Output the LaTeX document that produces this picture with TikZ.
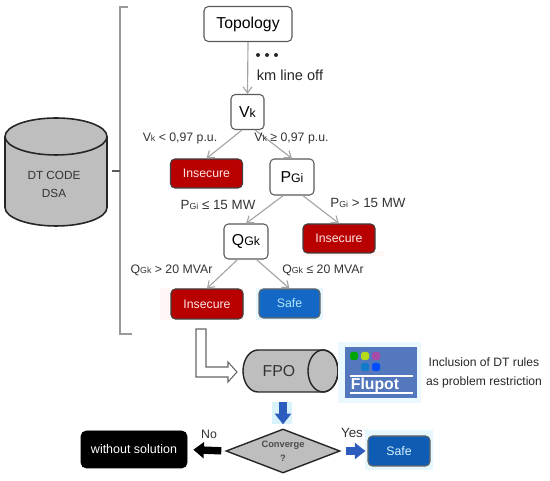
\documentclass[tikz,border=0pt]{standalone}
\usepackage{fontspec}
\setmainfont{Liberation Sans}
\usetikzlibrary{positioning, arrows.meta, shapes.geometric}
\definecolor{dtred}{RGB}{184,0,0}
\definecolor{dtblue}{RGB}{18,104,196}
\definecolor{dtnavy}{RGB}{14,92,180}
\definecolor{dtgray}{RGB}{190,190,190}
\definecolor{dtedge}{RGB}{165,165,165}
\definecolor{flublue}{RGB}{84,120,190}
\definecolor{arrowblue}{RGB}{44,92,190}
\newcommand{\smsub}[1]{{\fontsize{5pt}{5pt}\selectfont #1}}
\newcommand{\bigsub}[1]{{\fontsize{7pt}{7pt}\selectfont #1}}
\tikzset{
  varbox/.style={draw=black!65, fill=white, rounded corners=2.5pt, line width=0.6pt, inner sep=0pt},
  badbox/.style={draw=black!75, fill=dtred, text=white!90!red, rounded corners=2.5pt, line width=0.6pt,
    minimum width=1.44cm, minimum height=0.58cm, inner sep=0pt, font=\fontsize{7}{8}\selectfont},
  safebox/.style={draw=black!60, fill=dtblue, text=cyan!30, rounded corners=2.5pt, line width=0.6pt,
    minimum height=0.58cm, inner sep=0pt, font=\fontsize{7}{8}\selectfont},
  rulelabel/.style={inner sep=0pt, text=black!80, font=\fontsize{7}{8}\selectfont},
  treeedge/.style={draw=dtedge, line width=0.65pt, -{Straight Barb[length=3.5pt,width=5pt]}},
  fatedge/.style={line width=4.2pt, -{Triangle[length=6pt,width=9pt]}},
}
\begin{document}
\begin{tikzpicture}
        \useasboundingbox (0,0) rectangle (11,9.62);
        % left database
        \draw[draw=black!85, fill=dtgray, line width=0.9pt]
          (0.10,6.89) -- (0.10,5.47) arc (180:360:1.02 and 0.37) -- (2.14,6.89);
        \draw[draw=black!85, fill=dtgray, line width=0.9pt]
          (1.12,6.89) ellipse (1.02 and 0.37);
        \node[align=center, inner sep=0pt, text=black!80, font=\fontsize{6.7}{10.2}\selectfont] (dtcode) at (1.08,5.94) {DT CODE\\DSA};
        % bracket
        \draw[draw=black!40, line width=0.6pt]
          (2.56,9.48) -- (2.40,9.48) -- (2.40,2.94) -- (2.64,2.94);
        \draw[draw=black!65, line width=0.6pt] (2.24,6.20) -- (2.40,6.20);
        % faint halos round the boxes
        \fill[pink!15] (3.20,3.22) rectangle (4.88,3.86);
        \fill[pink!15] (6.06,4.50) rectangle (7.68,4.60);
        \fill[cyan!10] (5.12,3.22) rectangle (6.46,3.86);
        \fill[cyan!10] (7.30,0.22) rectangle (8.66,1.02);
        \fill[cyan!15] (5.44,1.14) rectangle (5.84,1.58);
        % decision tree
        \node[varbox, minimum width=1.76cm, minimum height=0.70cm, font=\fontsize{9}{10}\selectfont] (topology) at (4.96,9.14) {Topology};
        \node[varbox, minimum width=0.66cm, minimum height=0.70cm, font=\fontsize{9}{10}\selectfont] (vk) at (4.95,7.38) {V\bigsub{k}};
        \node[badbox] (insecurea) at (4.13,6.15) {Insecure};
        \node[varbox, minimum width=0.88cm, minimum height=0.72cm, font=\fontsize{9}{10}\selectfont] (pgi) at (5.84,6.08) {P\bigsub{Gi}};
        \node[varbox, minimum width=0.88cm, minimum height=0.70cm, font=\fontsize{9}{10}\selectfont] (qgk) at (4.92,4.79) {Q\bigsub{Gk}};
        \node[badbox] (insecureb) at (6.78,4.85) {Insecure};
        \node[badbox, minimum height=0.60cm] (insecurec) at (4.14,3.54) {Insecure};
        \node[safebox, minimum width=1.22cm] (safea) at (5.79,3.55) {Safe};
        \draw[treeedge] (topology.south) -- (vk.north);
        \draw[treeedge] (vk.253) -- (insecurea.north);
        \draw[treeedge] (vk.293) -- (pgi.north);
        \draw[treeedge] (pgi.245) -- (qgk.north);
        \draw[treeedge] (pgi.300) -- (insecureb.north);
        \draw[treeedge] (qgk.245) -- (insecurec.north);
        \draw[treeedge] (qgk.300) -- (safea.north);
        % labels of the tree
        \foreach \x in {5.16,5.34,5.52}
          \fill[black!85] (\x,8.52) circle (0.04);
        \node[inner sep=0pt, text=black!85, font=\fontsize{8.3}{9}\selectfont] (kmoff) at (5.80,8.12) {km line off};
        \node[rulelabel] (vklow) at (3.60,6.86) {V\smsub{k} < 0,97 p.u.};
        \node[rulelabel] (vkhigh) at (5.83,6.86) {V\smsub{k} ≥ 0,97 p.u.};
        \node[rulelabel, font=\fontsize{7.6}{9}\selectfont] (pgilow) at (4.36,5.52) {P\smsub{Gi} ≤ 15 MW};
        \node[rulelabel, font=\fontsize{7.6}{9}\selectfont] (pgihigh) at (7.36,5.56) {P\smsub{Gi} > 15 MW};
        \node[rulelabel] (qgkhigh) at (3.43,4.22) {Q\smsub{Gk} > 20 MVAr};
        \node[rulelabel] (qgklow) at (6.46,4.22) {Q\smsub{Gk} ≤ 20 MVAr};
        % hollow arrow
        \draw[draw=black!60, fill=white, line width=0.6pt]
          (3.92,3.04) -- (3.92,2.08) -- (4.56,2.08) -- (4.56,1.98) -- (4.74,2.18)
          -- (4.56,2.38) -- (4.56,2.28) -- (4.12,2.28) -- (4.12,3.04) -- cycle;
        % FPO cylinder
        \draw[draw=black!85, fill=dtgray, line width=0.8pt]
          (5.16,2.62) -- (6.46,2.62) arc (90:-90:0.30 and 0.42) -- (5.16,1.78) arc (270:90:0.30 and 0.42) -- cycle;
        \draw[draw=black!85, line width=0.8pt] (6.46,2.20) ellipse (0.30 and 0.42);
        \node[minimum width=1.90cm, minimum height=0.84cm, inner sep=0pt] (fpo) at (5.81,2.20) {};
        \node[inner sep=0pt, text=black!80, font=\fontsize{9}{10}\selectfont] (fpotext) at (5.58,2.20) {FPO};
        % flupot logo
        \fill[cyan!8] (6.76,1.56) rectangle (8.42,2.78);
        \fill[flublue] (6.90,1.66) rectangle (8.34,2.68);
        \fill[green!65!black, rounded corners=1pt] (7.00,2.42) rectangle (7.16,2.58);
        \fill[yellow!70!green, rounded corners=1pt] (7.22,2.42) rectangle (7.38,2.58);
        \fill[violet!70, rounded corners=1pt] (7.44,2.42) rectangle (7.60,2.58);
        \fill[cyan!60!blue, rounded corners=1pt] (7.22,2.20) rectangle (7.38,2.36);
        \fill[blue!70!cyan, rounded corners=1pt] (7.44,2.20) rectangle (7.60,2.36);
        \draw[draw=white, line width=0.8pt] (7.00,2.10) -- (8.26,2.10);
        \draw[draw=white, line width=0.8pt] (7.00,1.76) -- (8.26,1.76);
        \node[inner sep=0pt, text=white, font=\fontsize{9}{10}\selectfont\bfseries] (flupot) at (7.50,1.92) {Flupot};
        \node[align=center, inner sep=0pt, text=black!85, font=\fontsize{6.9}{10.6}\selectfont] (inclusion) at (9.68,2.16) {Inclusion of DT rules\\as problem restriction};
        % lower flow
        \node[diamond, draw=black!85, fill=dtgray, line width=0.8pt, aspect=2.6, inner sep=0pt,
          minimum width=2.28cm, minimum height=0.88cm, align=center, text=black!70,
          font=\fontsize{5.3}{8}\selectfont\bfseries] (converge) at (5.66,0.60) {Converge\\?};
        \node[safebox, fill=dtnavy, text=white!85!cyan, minimum width=1.24cm, minimum height=0.60cm] (safeb) at (7.98,0.60) {Safe};
        \node[draw=black, fill=black, text=white, rounded corners=3pt, minimum width=2.12cm, minimum height=0.74cm,
          inner sep=0pt, font=\fontsize{7.1}{9}\selectfont] (nosolution) at (2.68,0.63) {without solution};
        \draw[fatedge, draw=arrowblue, shorten <=0.20cm, shorten >=0.08cm] (converge.north |- fpo.south) -- (converge.north);
        \draw[fatedge, draw=arrowblue, shorten <=0.10cm, shorten >=0.04cm] (converge.east) -- (safeb.west);
        \draw[fatedge, draw=black, shorten <=0.08cm, shorten >=0.12cm] (converge.west) -- (nosolution.east);
        \node[inner sep=0pt, text=black!80, font=\fontsize{7.6}{8}\selectfont] (yes) at (7.04,0.96) {Yes};
        \node[inner sep=0pt, text=black!80, font=\fontsize{7}{8}\selectfont] (no) at (4.18,0.94) {No};
      \end{tikzpicture}
\end{document}
